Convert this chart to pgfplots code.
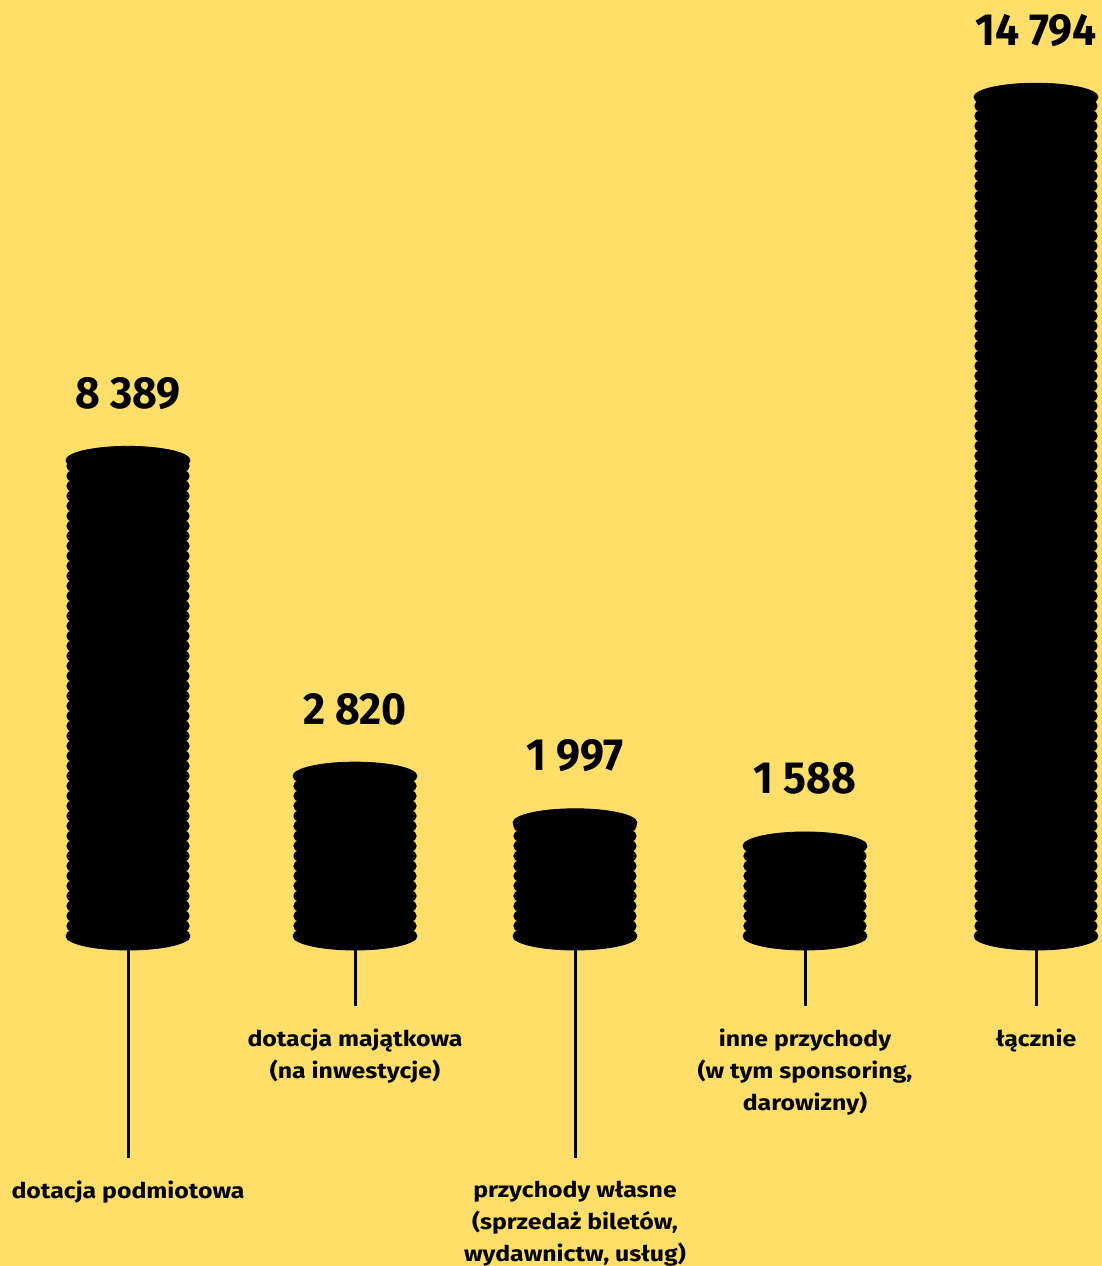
\documentclass[border=0pt]{standalone}
\usepackage{fontspec}
\setmainfont{Fira Sans}[FakeStretch=1.15]
\newfontfamily\numfont{Fira Sans}[FakeStretch=0.95]
\usepackage{pgfplots}
\usepackage{pgfplotstable}
\pgfplotsset{compat=1.18}
\definecolor{bg}{RGB}{255,222,106}

% x = centre of stack (px), val = value, lead = end of leader line
\pgfplotstableread{
x val lead
128 8389 -3915
355 2820 -1235
575 1997 -3915
805 1588 -1235
1036 14794 -1235
}\coins

\newcommand\labfont{\fontsize{10.8}{16}\selectfont\bfseries}

\begin{document}
\begin{tikzpicture}
\useasboundingbox (0,0) rectangle (551pt,633pt);
\fill[bg] (0,0) rectangle (551pt,633pt);
\begin{axis}[
  at={(0,0)}, anchor=south west,
  scale only axis, width=551pt, height=633pt,
  xmin=0, xmax=1102, ymin=-5820, ymax=16508,
  hide axis, clip=false,
]
% leader lines
\addplot[ycomb, black, line width=1.5pt, mark=none] table[x=x, y=lead] {\coins};
% stack body
\addplot[ybar, bar width=116, bar shift=0pt, fill=black, draw=none] table[x=x, y=val] {\coins};
% coin edges
\addplot[ycomb, black, line width=5.67pt, line cap=round, dash pattern=on 0pt off 5pt, mark=none]
  table[x expr=\thisrow{x}-56, y=val] {\coins};
\addplot[ycomb, black, line width=5.67pt, line cap=round, dash pattern=on 0pt off 5pt, mark=none]
  table[x expr=\thisrow{x}+56, y=val] {\coins};
% top and bottom of the stack
\addplot[only marks, mark=*, mark size=31pt, mark options={yscale=0.226, draw=none, fill=black}]
  table[x=x, y=val] {\coins};
\addplot[only marks, mark=*, mark size=31pt, mark options={yscale=0.226, draw=none, fill=black}]
  table[x=x, y expr=0] {\coins};
% values
\addplot[only marks, mark=none, point meta=y,
  /pgf/number format/1000 sep={\kern5pt}, /pgf/number format/assume math mode=true,
  nodes near coords,
  nodes near coords style={anchor=base, yshift=26pt, font=\numfont\fontsize{22.5}{24}\selectfont\bfseries}]
  table[x=x, y=val] {\coins};

\node[anchor=north, align=center, font=\labfont, inner sep=0pt] at (axis cs:128,-4321) {dotacja podmiotowa};
\node[anchor=north, align=center, font=\labfont, inner sep=0pt] at (axis cs:355,-1640) {dotacja majątkowa\\(na inwestycje)};
\node[anchor=north, align=center, font=\labfont, inner sep=0pt] at (axis cs:575,-4321) {przychody własne\\(sprzedaż biletów,\\wydawnictw, usług)};
\node[anchor=north, align=center, font=\labfont, inner sep=0pt] at (axis cs:805,-1640) {inne przychody\\(w tym sponsoring,\\darowizny)};
\node[anchor=north, align=center, font=\labfont, inner sep=0pt] at (axis cs:1036,-1640) {łącznie};
\end{axis}
\end{tikzpicture}
\end{document}
